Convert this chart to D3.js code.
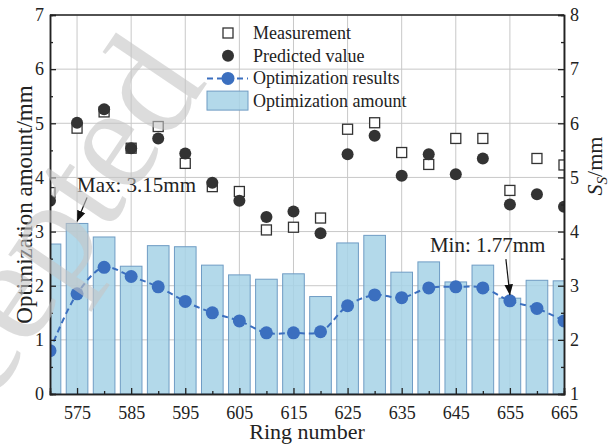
<!DOCTYPE html>
<html>
<head>
<meta charset="utf-8">
<script src="https://cdn.jsdelivr.net/npm/d3@7"></script>
<style>
  body { margin: 0; background: #fff; }
  text { font-family: "Liberation Serif", "Times New Roman", serif; fill: #222; }
</style>
</head>
<body>
<figure id="chart" style="margin:0"></figure>
<script>
// ring numbers (one bar every 5 rings)
const rings = [570, 575, 580, 585, 590, 595, 600, 605, 610, 615, 620, 625, 630, 635, 640, 645, 650, 655, 660, 665];
const xTicks = [575, 585, 595, 605, 615, 625, 635, 645, 655, 665];
const leftTicks = [0, 1, 2, 3, 4, 5, 6, 7];
const rightTicks = [1, 2, 3, 4, 5, 6, 7, 8];

// optimization amount (left axis, mm)
const amount = [2.77, 3.15, 2.90, 2.36, 2.74, 2.72, 2.38, 2.20, 2.12, 2.22, 1.80, 2.79, 2.93, 2.25, 2.44, 2.07, 2.38, 1.77, 2.10, 2.09];
// S_S values (right axis, mm)
const measurement = [4.72, 5.91, 6.21, 5.54, 5.94, 5.26, 4.83, 4.74, 4.03, 4.08, 4.25, 5.89, 6.01, 5.46, 5.24, 5.72, 5.72, 4.76, 5.35, 5.23];
const predicted = [4.57, 6.01, 6.26, 5.54, 5.72, 5.44, 4.90, 4.57, 4.27, 4.37, 3.97, 5.43, 5.77, 5.03, 5.43, 5.06, 5.35, 4.50, 4.69, 4.46];
const optimized = [1.80, 2.85, 3.34, 3.17, 2.98, 2.71, 2.50, 2.35, 2.13, 2.13, 2.15, 2.63, 2.83, 2.78, 2.96, 2.98, 2.96, 2.72, 2.58, 2.35];

const W = 613, H = 445;
const margin = { top: 15, right: 49, bottom: 51, left: 50 };
const width = W - margin.left - margin.right;
const height = H - margin.top - margin.bottom;

const blue = "#3b6fbf";
const dark = "#333";

const svg = d3.select("figure#chart").append("svg")
  .attr("width", W).attr("height", H);

svg.append("defs").append("clipPath").attr("id", "plot")
  .append("rect").attr("width", width).attr("height", height);

const g = svg.append("g")
  .attr("transform", "translate(" + margin.left + "," + margin.top + ")");

const x = d3.scaleLinear().domain([570, 665]).range([0, width]);
const yL = d3.scaleLinear().domain([0, 7]).range([height, 0]);
const yR = d3.scaleLinear().domain([1, 8]).range([height, 0]);

// grid
g.append("g").selectAll("line").data(leftTicks).enter().append("line")
  .attr("x1", 0).attr("x2", width)
  .attr("y1", d => yL(d)).attr("y2", d => yL(d))
  .attr("stroke", "#c8c8c8").attr("stroke-width", 1);
g.append("g").selectAll("line").data(xTicks).enter().append("line")
  .attr("x1", d => x(d)).attr("x2", d => x(d))
  .attr("y1", 0).attr("y2", height)
  .attr("stroke", "#c8c8c8").attr("stroke-width", 1);

const plot = g.append("g").attr("clip-path", "url(#plot)");

// bars
const bw = x(574) - x(570);
plot.selectAll(".bar").data(rings).enter().append("rect")
  .attr("class", "bar")
  .attr("x", d => x(d) - bw / 2)
  .attr("y", (d, i) => yL(amount[i]))
  .attr("width", bw)
  .attr("height", (d, i) => height - yL(amount[i]))
  .attr("fill", "#a6d2e6").attr("fill-opacity", 0.85)
  .attr("stroke", "#6f9cc4").attr("stroke-width", 1);

// optimization results line
const line = d3.line()
  .x((d, i) => x(rings[i]))
  .y(d => yR(d))
  .curve(d3.curveCatmullRom);
plot.append("path").datum(optimized)
  .attr("d", line)
  .attr("fill", "none")
  .attr("stroke", blue).attr("stroke-width", 2)
  .attr("stroke-dasharray", "6,4");
plot.selectAll(".opt").data(optimized).enter().append("circle")
  .attr("cx", (d, i) => x(rings[i]))
  .attr("cy", d => yR(d))
  .attr("r", 6.5).attr("fill", blue);

// measurement squares
plot.selectAll(".meas").data(measurement).enter().append("rect")
  .attr("x", (d, i) => x(rings[i]) - 5)
  .attr("y", d => yR(d) - 5)
  .attr("width", 10).attr("height", 10)
  .attr("fill", "#fff").attr("stroke", dark).attr("stroke-width", 1.3);

// predicted circles
plot.selectAll(".pred").data(predicted).enter().append("circle")
  .attr("cx", (d, i) => x(rings[i]))
  .attr("cy", d => yR(d))
  .attr("r", 6).attr("fill", dark);

// axes, ticks inward
const fmt = d3.format("d");
g.append("g").attr("transform", "translate(0," + height + ")")
  .call(d3.axisBottom(x).tickValues(xTicks).tickSize(-6).tickPadding(12).tickFormat(fmt));
g.append("g").attr("transform", "translate(0," + height + ")")
  .call(d3.axisBottom(x).tickValues(d3.range(580, 665, 10)).tickSize(-3).tickFormat(""));
g.append("g").call(d3.axisLeft(yL).tickValues(leftTicks).tickSize(-6).tickPadding(6).tickFormat(fmt));
g.append("g").call(d3.axisLeft(yL).tickValues(d3.range(0.5, 7, 1)).tickSize(-3).tickFormat(""));
g.append("g").attr("transform", "translate(" + width + ",0)")
  .call(d3.axisRight(yR).tickValues(rightTicks).tickSize(-6).tickPadding(6).tickFormat(fmt));
g.append("g").attr("transform", "translate(" + width + ",0)")
  .call(d3.axisRight(yR).tickValues(d3.range(1.5, 8, 1)).tickSize(-3).tickFormat(""));
g.append("line").attr("x1", 0).attr("x2", width).attr("y1", 0).attr("y2", 0)
  .attr("stroke", "#222").attr("stroke-width", 1.5);

g.selectAll(".domain").attr("stroke", "#222").attr("stroke-width", 1.5);
g.selectAll(".tick line").attr("stroke", "#222").attr("stroke-width", 1.3);
g.selectAll(".tick text").style("font-size", "18px").attr("fill", "#222");

// axis titles
svg.append("text").attr("x", margin.left + width / 2).attr("y", 439)
  .attr("text-anchor", "middle").style("font-size", "22px").text("Ring number");
svg.append("text").attr("transform", "translate(32," + (margin.top + height / 2) + ") rotate(-90)")
  .attr("text-anchor", "middle").style("font-size", "23px").text("Optimization amount/mm");
const rt = svg.append("text").attr("transform", "translate(602,166) rotate(-90)")
  .attr("text-anchor", "middle").style("font-size", "22px");
rt.append("tspan").style("font-style", "italic").text("S");
rt.append("tspan").style("font-size", "15px").style("font-style", "italic").attr("dy", 5).text("S");
rt.append("tspan").attr("dy", -5).text("/mm");

// annotations
svg.select("defs").append("marker").attr("id", "arr")
  .attr("viewBox", "0 0 10 10").attr("refX", 10).attr("refY", 5)
  .attr("markerWidth", 9).attr("markerHeight", 9).attr("orient", "auto")
  .append("path").attr("d", "M0,1 L10,5 L0,9 Z").attr("fill", "#111");
g.append("text").attr("x", x(575)).attr("y", yL(3.15) - 31)
  .style("font-size", "21px").text("Max: 3.15mm");
g.append("line").attr("x1", x(575) + 10).attr("y1", yL(3.15) - 26)
  .attr("x2", x(575)).attr("y2", yL(3.15) - 2)
  .attr("stroke", "#111").attr("stroke-width", 1.2).attr("marker-end", "url(#arr)");
g.append("text").attr("x", x(655) - 80).attr("y", yL(1.77) - 46)
  .style("font-size", "21px").text("Min: 1.77mm");
g.append("line").attr("x1", x(655) - 4).attr("y1", yL(1.77) - 39)
  .attr("x2", x(655)).attr("y2", yL(1.77) - 3)
  .attr("stroke", "#111").attr("stroke-width", 1.2).attr("marker-end", "url(#arr)");

// legend
const legend = svg.append("g").attr("transform", "translate(207,33)");
const rowH = 22.7;
legend.append("rect").attr("x", 16).attr("y", -5).attr("width", 10).attr("height", 10)
  .attr("fill", "#fff").attr("stroke", dark).attr("stroke-width", 1.3);
legend.append("circle").attr("cx", 21).attr("cy", rowH).attr("r", 6).attr("fill", dark);
legend.append("line").attr("x1", 0).attr("x2", 41).attr("y1", rowH * 2).attr("y2", rowH * 2)
  .attr("stroke", blue).attr("stroke-width", 2).attr("stroke-dasharray", "6,4");
legend.append("circle").attr("cx", 21).attr("cy", rowH * 2).attr("r", 6.5).attr("fill", blue);
legend.append("rect").attr("x", 0).attr("y", rowH * 3 - 10).attr("width", 41).attr("height", 19)
  .attr("fill", "#a6d2e6").attr("fill-opacity", 0.85).attr("stroke", "#6f9cc4");
["Measurement", "Predicted value", "Optimization results", "Optimization amount"].forEach((t, i) => {
  legend.append("text").attr("x", 46).attr("y", i * rowH + 6).style("font-size", "18px").text(t);
});

// watermark
svg.append("text").attr("transform", "translate(208,82) rotate(-56)")
  .attr("text-anchor", "end").style("font-size", "150px")
  .style("fill", "#c4c4c4").attr("fill-opacity", 0.6).text("Accepted");
</script>
</body>
</html>
